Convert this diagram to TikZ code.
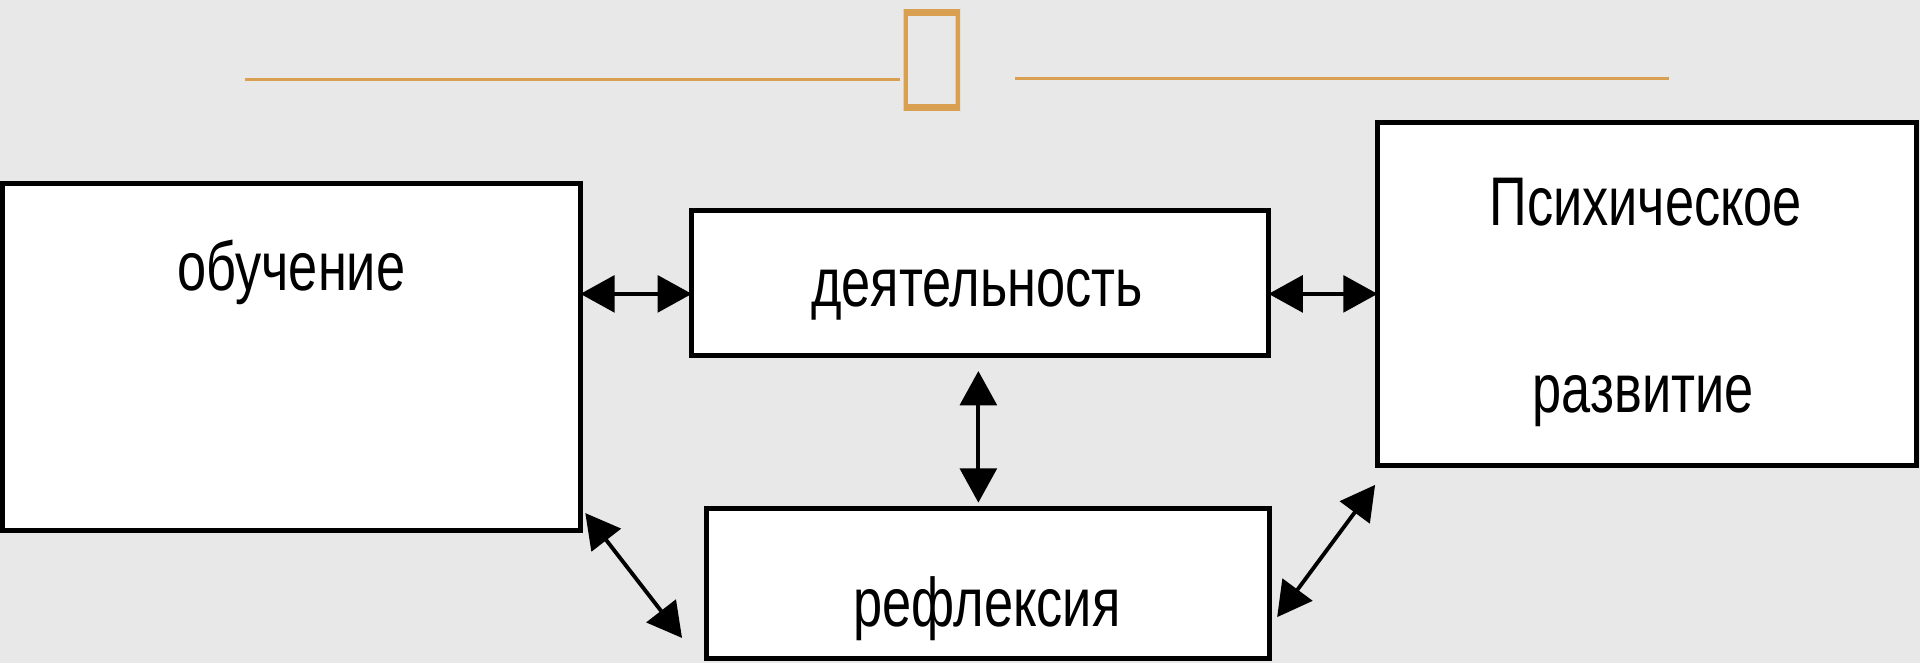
\documentclass[tikz,border=0pt]{standalone}
\usepackage{fontspec}
\setmainfont{Liberation Sans}
\newfontfamily\boxfont[FakeStretch=0.76]{Liberation Sans}
\usetikzlibrary{arrows.meta}
\definecolor{bggray}{RGB}{232,232,232}
\definecolor{accent}{RGB}{218,160,82}

\begin{document}
\begin{tikzpicture}[x=0.1mm,y=-0.1mm,
	box/.style={draw,fill=white,line width=1.2pt,inner sep=0,outer sep=0},
	lbl/.style={font=\boxfont\fontsize{16}{19}\selectfont,inner sep=0,anchor=base},
	link/.style={arrows={Triangle[length=2.8mm,width=3mm]-Triangle[length=2.8mm,width=3mm]},line width=0.9pt}]
	\fill[bggray] (0,0) rectangle (1568,541.4);
	\useasboundingbox (0,0) rectangle (1568,541.4);
	% top rule with the empty glyph box
	\draw[accent,line width=0.7pt] (200,65) -- (735,65);
	\draw[accent,line width=0.7pt] (829,64.5) -- (1363,64.5);
	\fill[accent,even odd rule] (738,7.4) rectangle (784,90.6) (741.5,13) rectangle (780.5,85);
	% boxes
	\node[box,minimum width=47.2mm,minimum height=28.3mm] (learn) at (238,291.5) {};
	\node[box,minimum width=47.1mm,minimum height=11.8mm] (act) at (800.5,231) {};
	\node[box,minimum width=44mm,minimum height=28mm] (dev) at (1345,240) {};
	\node[box,minimum width=46mm,minimum height=12.2mm] (refl) at (807,476.5) {};
	% texts
	\node[lbl] (learntxt) at (238,237) {обучение};
	\node[lbl] (acttxt) at (798,250) {деятельность};
	\node[lbl] (devtxt1) at (1344,184) {Психическое};
	\node[lbl] (devtxt2) at (1342,337) {развитие};
	\node[lbl] (refltxt) at (806,512) {рефлексия};
	% free ends of the links
	\coordinate (row) at (0,240);
	\coordinate (col) at (799,0);
	\coordinate (l1) at (478,419);
	\coordinate (l2) at (557,521);
	\coordinate (r1) at (1123,396);
	\coordinate (r2) at (1043,504);
	% links
	\draw[link] (learn.east |- row) -- (act.west |- row);
	\draw[link] (act.east |- row) -- (dev.west |- row);
	\draw[link] ([yshift=-1.3mm]act.south -| col) -- ([yshift=0.5mm]refl.north -| col);
	\draw[link] (l1) -- (l2);
	\draw[link] (r1) -- (r2);
\end{tikzpicture}
\end{document}
